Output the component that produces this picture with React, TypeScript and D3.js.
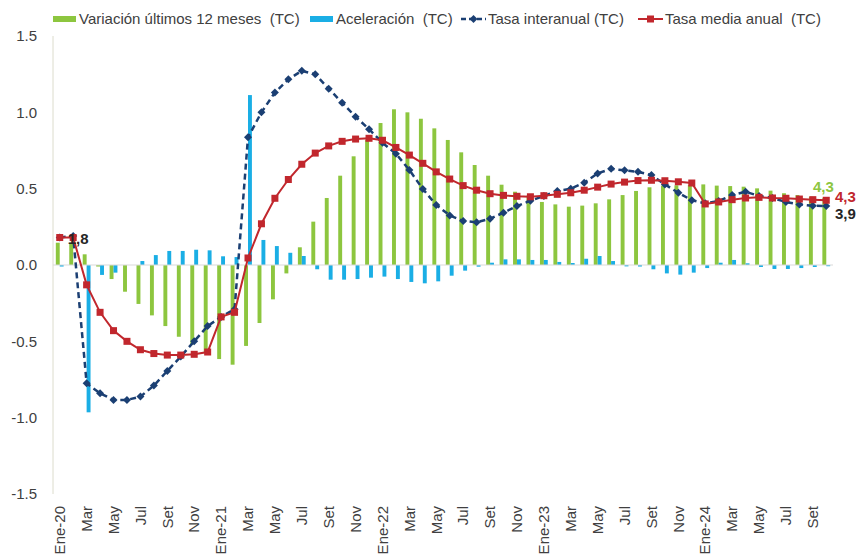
import React from "react";
import * as d3 from "d3";

const months = ["Ene-20","Feb","Mar","Abr","May","Jun","Jul","Ago","Set","Oct","Nov","Dic",
"Ene-21","Feb","Mar","Abr","May","Jun","Jul","Ago","Set","Oct","Nov","Dic",
"Ene-22","Feb","Mar","Abr","May","Jun","Jul","Ago","Set","Oct","Nov","Dic",
"Ene-23","Feb","Mar","Abr","May","Jun","Jul","Ago","Set","Oct","Nov","Dic",
"Ene-24","Feb","Mar","Abr","May","Jun","Jul","Ago","Set","Oct"];

const variacion12 = [0.146,0.146,0.07,-0.01,-0.092,-0.175,-0.255,-0.33,-0.40,-0.47,-0.52,-0.57,
-0.616,-0.653,-0.53,-0.38,-0.225,-0.055,0.116,0.284,0.439,0.585,0.712,0.82,
0.93,1.02,1.0,0.958,0.895,0.819,0.738,0.655,0.585,0.526,0.48,0.455,
0.413,0.397,0.382,0.389,0.404,0.43,0.458,0.485,0.509,0.52,0.522,0.525,
0.528,0.52,0.517,0.513,0.502,0.487,0.47,0.458,0.447,0.44];

const aceleracion = [-0.01,0.0,-0.965,-0.065,-0.05,0.0,0.026,0.065,0.092,0.092,0.10,0.096,
0.057,0.052,1.113,0.164,0.124,0.08,0.059,-0.028,-0.096,-0.096,-0.092,-0.083,
-0.076,-0.092,-0.111,-0.12,-0.107,-0.07,-0.037,-0.011,0.015,0.037,0.037,0.033,
0.033,0.02,0.013,0.041,0.059,0.026,-0.009,-0.01,-0.028,-0.055,-0.063,-0.05,
-0.02,0.015,0.033,0.011,-0.013,-0.026,-0.026,-0.02,-0.013,-0.008];

const tasaInteranual = [0.18,0.19,-0.775,-0.84,-0.884,-0.884,-0.862,-0.79,-0.694,-0.60,-0.50,-0.40,
-0.34,-0.29,0.836,1.0,1.13,1.216,1.272,1.249,1.155,1.063,0.971,0.89,
0.80,0.729,0.622,0.498,0.393,0.325,0.288,0.28,0.303,0.343,0.386,0.421,
0.452,0.485,0.50,0.539,0.60,0.63,0.62,0.61,0.589,0.528,0.473,0.424,
0.404,0.419,0.458,0.48,0.452,0.439,0.413,0.397,0.388,0.386];

const tasaMedia = [0.18,0.18,-0.13,-0.31,-0.43,-0.50,-0.555,-0.58,-0.59,-0.59,-0.585,-0.57,
-0.34,-0.31,0.046,0.27,0.437,0.56,0.66,0.733,0.78,0.81,0.825,0.83,
0.817,0.77,0.72,0.666,0.61,0.563,0.52,0.49,0.467,0.456,0.45,0.447,
0.454,0.463,0.473,0.49,0.51,0.53,0.543,0.553,0.555,0.552,0.545,0.537,
0.40,0.413,0.428,0.439,0.443,0.439,0.437,0.432,0.428,0.424];

const yTicks = [1.5,1.0,0.5,0.0,-0.5,-1.0,-1.5];

const legendItems = [
  { label: "Variación últimos 12 meses  (TC)", kind: "bar", color: "#8DC63F" },
  { label: "Aceleración  (TC)", kind: "bar", color: "#1AAEE5" },
  { label: "Tasa interanual (TC)", kind: "dash", color: "#1B3F73" },
  { label: "Tasa media anual  (TC)", kind: "sq", color: "#C1272D" },
];

const GREEN = "#8DC63F";
const CYAN = "#1AAEE5";
const NAVY = "#1B3F73";
const RED = "#C1272D";
const FONT = "'Liberation Sans', Arial, sans-serif";

export default function App() {
  const W = 860, H = 556;
  const left = 53, right = 833, top = 36, bottom = 494;
  const idx = months.map((_, i) => i);
  const x = d3.scaleBand<number>().domain(idx).range([left, right]).paddingInner(0).paddingOuter(0);
  const bw = x.bandwidth();
  const xs = d3.scaleBand<string>().domain(["g", "b"]).range([0, bw]).paddingInner(0).paddingOuter(0.72);
  const y = d3.scaleLinear().domain([-1.5, 1.5]).range([bottom, top]);
  const cx = (i: number) => (x(i) as number) + bw / 2;
  const y0 = y(0);

  const line = d3.line<number>().x((_, i) => cx(i)).y((d) => y(d));

  const diamond = (px: number, py: number, r: number) =>
    `M${px},${py - r}L${px + r},${py}L${px},${py + r}L${px - r},${py}Z`;

  const legendX = [53, 310, 461, 638];

  return (
    <svg width={W} height={H} style={{ position: "absolute", left: 0, top: 0 }} fontFamily={FONT}>
      <rect width={W} height={H} fill="#fff" />
      {/* legend */}
      {legendItems.map((it, k) => {
        const lx = legendX[k];
        const ly = 19;
        return (
          <g key={k}>
            {it.kind === "bar" && <rect x={lx} y={ly - 3} width={23} height={6} fill={it.color} />}
            {it.kind === "dash" && (
              <g>
                <line x1={lx} x2={lx + 25} y1={ly} y2={ly} stroke={it.color} strokeWidth={2.5} strokeDasharray="5,3" />
                <path d={diamond(lx + 12.5, ly, 4)} fill={it.color} />
              </g>
            )}
            {it.kind === "sq" && (
              <g>
                <line x1={lx} x2={lx + 25} y1={ly} y2={ly} stroke={it.color} strokeWidth={2} />
                <rect x={lx + 9} y={ly - 3.5} width={7} height={7} fill={it.color} />
              </g>
            )}
            <text x={lx + (it.kind === "bar" ? 26 : 27)} y={ly} dy="0.35em" fontSize={15} fill="#404040" style={{ whiteSpace: "pre" }}>
              {it.label}
            </text>
          </g>
        );
      })}

      {/* y axis */}
      <line x1={left} x2={left} y1={top} y2={bottom} stroke="#dcdccc" strokeWidth={1} />
      {yTicks.map((t) => (
        <text key={t} x={37} y={y(t)} dy="0.35em" textAnchor="end" fontSize={15} fill="#404040">
          {t.toFixed(1)}
        </text>
      ))}

      {/* bars */}
      {variacion12.map((v, i) => (
        <rect key={"g" + i} x={(x(i) as number) + (xs("g") as number)} width={xs.bandwidth()}
          y={Math.min(y(v), y0)} height={Math.abs(y(v) - y0)} fill={GREEN} />
      ))}
      {aceleracion.map((v, i) => (
        <rect key={"b" + i} x={(x(i) as number) + (xs("b") as number)} width={xs.bandwidth()}
          y={Math.min(y(v), y0)} height={Math.abs(y(v) - y0)} fill={CYAN} />
      ))}

      {/* zero line */}
      <line x1={left} x2={right} y1={y0} y2={y0} stroke="#d9d9d9" strokeWidth={1} />

      {/* tasa interanual */}
      <path d={line(tasaInteranual) || ""} fill="none" stroke={NAVY} strokeWidth={2.5} strokeDasharray="6,4" />
      {tasaInteranual.map((v, i) => (
        <path key={"d" + i} d={diamond(cx(i), y(v), 4)} fill={NAVY} />
      ))}

      {/* tasa media anual */}
      <path d={line(tasaMedia) || ""} fill="none" stroke={RED} strokeWidth={2} />
      {tasaMedia.map((v, i) => (
        <rect key={"s" + i} x={cx(i) - 3.5} y={y(v) - 3.5} width={7} height={7} fill={RED} />
      ))}

      {/* x labels */}
      {months.map((m, i) =>
        i % 2 === 0 ? (
          <text key={"x" + i} transform={`translate(${cx(i)},506) rotate(-90)`} dy="0.35em" textAnchor="end" fontSize={15} fill="#404040">
            {m}
          </text>
        ) : null
      )}

      {/* data labels */}
      <text x={cx(0) + 8} y={y(tasaMedia[0]) + 1} dy="0.35em" fontSize={15} fontWeight="bold" fill="#262626">1,8</text>
      <text x={813} y={187} dy="0.35em" fontSize={15} fontWeight="bold" fill={GREEN}>4,3</text>
      <text x={835} y={197} dy="0.35em" fontSize={15} fontWeight="bold" fill={RED}>4,3</text>
      <text x={835} y={214} dy="0.35em" fontSize={15} fontWeight="bold" fill="#262626">3,9</text>
    </svg>
  );
}
